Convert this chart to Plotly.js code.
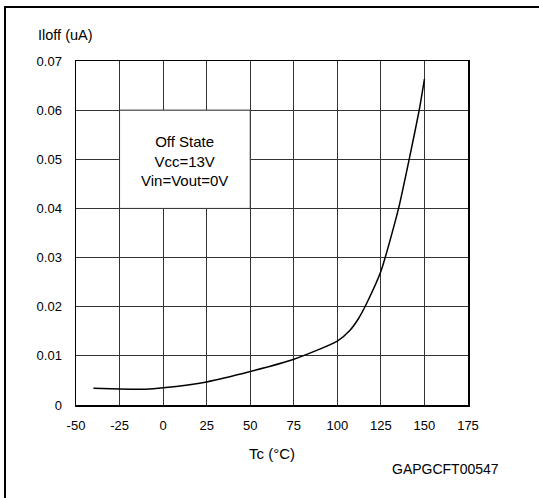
<!DOCTYPE html>
<html><head><meta charset="utf-8">
<script src="https://cdn.plot.ly/plotly-3.0.1.min.js"></script>
<style>
html,body{margin:0;padding:0;background:#fff;}
#wrap{position:relative;width:539px;height:498px;}
#chart{position:absolute;left:0;top:0;width:539px;height:498px;}
.fl{position:absolute;background:#000;z-index:5;}
</style></head>
<body>
<div id="wrap">
<div id="chart"></div>
<div class="fl" style="left:4px;top:6px;width:2px;height:492px;"></div>
<div class="fl" style="left:4px;top:6px;width:535px;height:2px;"></div>
</div>
<script>
const tempC = [-40, -25, -10, 0, 25, 50, 75, 100, 107, 112, 117, 125, 135, 142, 147, 150];
const iloff = [0.0034, 0.00325, 0.00322, 0.0035, 0.0047, 0.0068, 0.0093, 0.0130, 0.0151, 0.0175, 0.0208, 0.0272, 0.0398, 0.0513, 0.0600, 0.0663];
const xTicks = [-50, -25, 0, 25, 50, 75, 100, 125, 150, 175];
const yTicks = [0, 0.01, 0.02, 0.03, 0.04, 0.05, 0.06, 0.07];
const yTickText = ['0', '0.01', '0.02', '0.03', '0.04', '0.05', '0.06', '0.07'];
const noteLines = ['Off State', 'Vcc=13V', 'Vin=Vout=0V'];

const fam = 'Liberation Sans, Arial, sans-serif';
const tickFont = {family: fam, size: 13, color: '#000'};

const trace = {
  x: tempC, y: iloff, type: 'scatter', mode: 'lines',
  line: {color: '#000', width: 1.5, shape: 'spline', smoothing: 0.6},
  hoverinfo: 'skip'
};

const layout = {
  width: 539, height: 498,
  margin: {l: 76, r: 71, t: 61, b: 93},
  paper_bgcolor: '#fff', plot_bgcolor: '#fff',
  showlegend: false,
  font: tickFont,
  xaxis: {
    range: [-50, 175], tickvals: xTicks, ticktext: xTicks.map(String),
    showgrid: true, gridcolor: '#333', gridwidth: 1,
    zeroline: false, showline: true, linecolor: '#000', linewidth: 1.5, mirror: true,
    ticks: '', ticklabelstandoff: 8, tickfont: tickFont
  },
  yaxis: {
    range: [0, 0.07], tickvals: yTicks, ticktext: yTickText,
    showgrid: true, gridcolor: '#333', gridwidth: 1,
    zeroline: false, showline: true, linecolor: '#000', linewidth: 1.5, mirror: true,
    ticks: '', ticklabelstandoff: 10, tickfont: tickFont
  },
  shapes: [{
    type: 'rect', xref: 'x', yref: 'y', x0: -25, x1: 50, y0: 0.04, y1: 0.06,
    fillcolor: '#fff', line: {color: '#333', width: 1}, layer: 'above'
  }],
  annotations: [
    {xref: 'x', yref: 'y', x: 12.5, y: 0.0497, text: noteLines.join('<br>'),
     showarrow: false, font: {family: fam, size: 15, color: '#000'}, align: 'center'},
    {xref: 'paper', yref: 'paper', x: (36 - 76) / 392, y: (405 - 35) / 344, xanchor: 'left', yanchor: 'middle',
     text: 'Iloff (uA)', showarrow: false, font: {family: fam, size: 14.5, color: '#000'}},
    {xref: 'paper', yref: 'paper', x: (272 - 76) / 392, y: (405 - 453) / 344, xanchor: 'center', yanchor: 'middle',
     text: 'Tc (°C)', showarrow: false, font: {family: fam, size: 15, color: '#000'}},
    {xref: 'paper', yref: 'paper', x: (501 - 76) / 392, y: (405 - 469) / 344, xanchor: 'right', yanchor: 'middle',
     text: 'GAPGCFT00547', showarrow: false, font: {family: fam, size: 14, color: '#000'}}
  ]
};

Plotly.newPlot('chart', [trace], layout, {displayModeBar: false, staticPlot: true});
</script>
</body></html>
